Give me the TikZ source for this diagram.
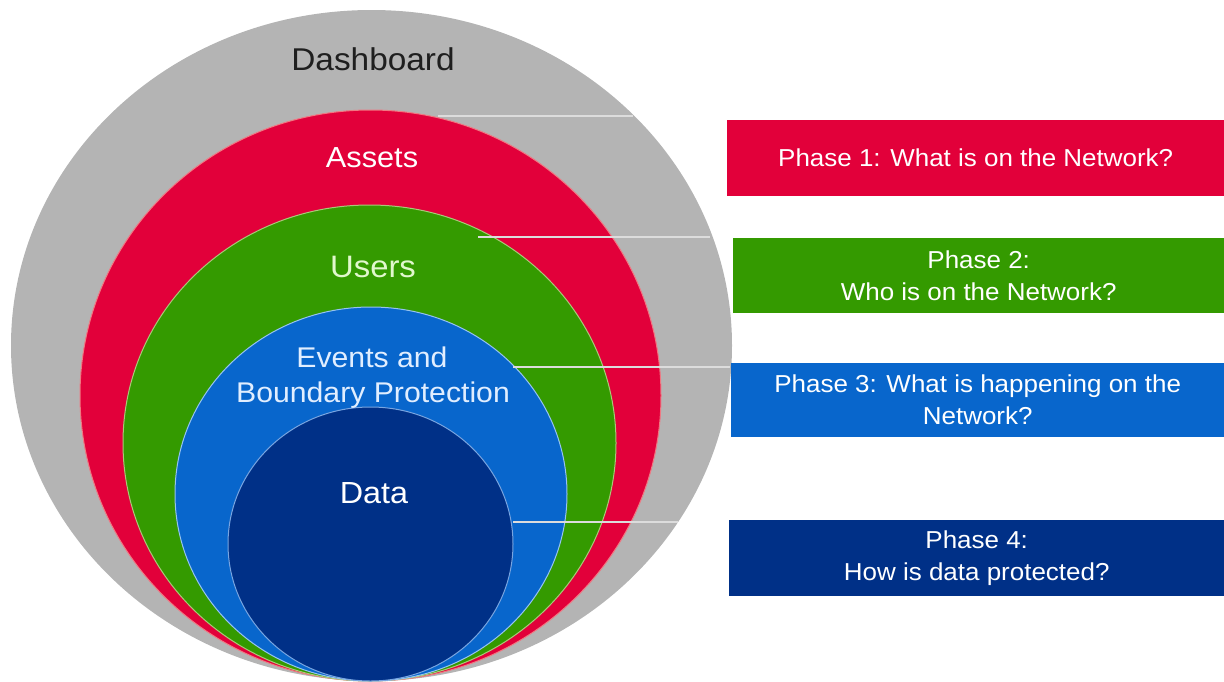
\documentclass[tikz,border=0pt]{standalone}
\usepackage{fontspec}
\setmainfont{Liberation Sans}[FakeStretch=1.06]
\usetikzlibrary{shapes.geometric}
\definecolor{cgray}{RGB}{180,180,180}
\definecolor{cred}{RGB}{226,0,58}
\definecolor{cgreen}{RGB}{52,154,0}
\definecolor{cblue}{RGB}{8,102,204}
\definecolor{cdark}{RGB}{0,48,135}
\definecolor{cline}{RGB}{220,220,220}
\definecolor{redge}{RGB}{240,120,130}
\definecolor{gedge}{RGB}{170,200,120}
\definecolor{bedge}{RGB}{150,195,240}
\definecolor{dedge}{RGB}{120,165,225}
\definecolor{tgreen}{RGB}{225,248,205}
\definecolor{tblue}{RGB}{225,238,255}
\begin{document}
\begin{tikzpicture}[x=1pt,y=-1pt,
  ring/.style={ellipse, inner sep=0pt, line width=1pt},
  lbl/.style={anchor=base, inner sep=0pt, font=\fontsize{30}{36}\selectfont},
  phase/.style={rectangle, anchor=west, inner sep=0pt, minimum height=76pt,
    text=white, align=center, font=\fontsize{24.5}{32}\selectfont},
  leader/.style={draw=cline, line width=2pt}]
\useasboundingbox (0,0) rectangle (1224,681);
% rings
\node[ring, fill=cgray, minimum width=721pt, minimum height=671pt] (dash) at (371.5,345.5) {};
\node[ring, fill=cred, draw=redge, minimum width=581pt, minimum height=571pt] (assets) at (370.5,395.5) {};
\node[ring, fill=cgreen, draw=gedge, minimum width=493pt, minimum height=476pt] (users) at (369.5,443) {};
\node[ring, fill=cblue, draw=bedge, minimum width=392pt, minimum height=374pt] (events) at (371,494) {};
\node[ring, fill=cdark, draw=dedge, minimum width=285pt, minimum height=274pt] (data) at (370.5,544) {};
% labels
\node[lbl, text=black!88, font=\fontsize{31.5}{36}\selectfont] (tdash) at (373,70) {Dashboard};
\node[lbl, text=white, font=\fontsize{29}{36}\selectfont] (tassets) at (372,167) {Assets};
\node[lbl, text=tgreen, font=\fontsize{31}{36}\selectfont] (tusers) at (373,277) {Users};
\node[lbl, text=tblue, font=\fontsize{28.5}{36}\selectfont] (tev1) at (372,367) {Events and};
\node[lbl, text=tblue, font=\fontsize{28.5}{36}\selectfont] (tev2) at (373,402) {Boundary Protection};
\node[lbl, text=white, font=\fontsize{30.5}{36}\selectfont] (tdata) at (374,503) {Data};
% phase boxes
\node[phase, fill=cred, minimum width=497pt] (p1) at (727,157.5) {Phase 1: What is on the Network?};
\node[phase, fill=cgreen, minimum width=491pt, minimum height=75pt] (p2) at (733,275.5) {Phase 2:\\Who is on the Network?};
\node[phase, fill=cblue, minimum width=493pt, minimum height=74pt] (p3) at (731,400) {Phase 3: What is happening on the\\Network?};
\node[phase, fill=cdark, minimum width=495pt] (p4) at (729,558) {Phase 4:\\How is data protected?};
% leader lines
\coordinate (a1) at (438,116); \coordinate (b1) at (633,116);
\coordinate (a2) at (478,237); \coordinate (b2) at (710,237);
\coordinate (a3) at (513,367); \coordinate (b3) at (730,367);
\coordinate (a4) at (513,522); \coordinate (b4) at (678,522);
\draw[leader] (a1) -- (b1);
\draw[leader] (a2) -- (b2);
\draw[leader] (a3) -- (b3);
\draw[leader] (a4) -- (b4);
\end{tikzpicture}
\end{document}
